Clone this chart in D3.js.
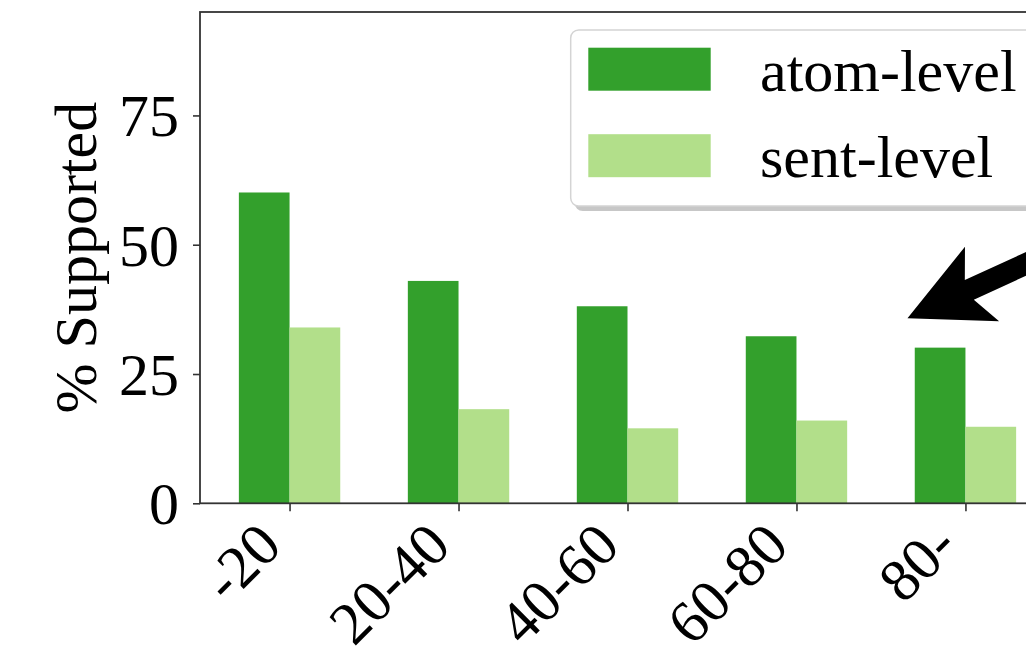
<!DOCTYPE html>
<html>
<head>
<meta charset="utf-8">
<script src="https://cdn.jsdelivr.net/npm/d3@7"></script>
<style>
  html, body { margin: 0; padding: 0; background: #fff; }
  svg { display: block; }
  svg text { font-family: "Liberation Serif", "Times New Roman", Times, serif !important; fill: #000; }
</style>
</head>
<body>
<svg id="chart" width="1026" height="662"></svg>
<script>
// ---- data ----
const categories = ["-20", "20-40", "40-60", "60-80", "80-"];
const atomLevel = [60.1, 43.0, 38.1, 32.3, 30.1];
const sentLevel = [34.0, 18.2, 14.5, 16.0, 14.8];
const seriesNames = ["atom-level", "sent-level"];
const yTicks = [0, 25, 50, 75];
const yLabel = "% Supported";
const arrowTip = [3.657, 35.8]; // annotation arrow tip (data coords)

(function () {
// ---- layout ----
const plotL = 200, plotT = 12, plotR = 1055, plotB = 503.3;
const colors = ["#33a02c", "#b2df8a"];
const barW = 0.3;
const fontSize = 60;
const serif = "'Liberation Serif', 'Times New Roman', Times, serif";

const svg = d3.select("#chart");

const x = d3.scaleLinear().domain([-0.53, categories.length - 1 + 0.53]).range([plotL, plotR]);
const y = d3.scaleLinear().domain([0, 95]).range([plotB, plotT]);

// bars
const g = svg.append("g");
g.selectAll("rect.atom").data(atomLevel).join("rect")
  .attr("class", "atom")
  .attr("x", (d, i) => x(i - barW))
  .attr("width", (d, i) => x(i) - x(i - barW))
  .attr("y", d => y(d))
  .attr("height", d => y(0) - y(d))
  .attr("fill", colors[0]);
g.selectAll("rect.sent").data(sentLevel).join("rect")
  .attr("class", "sent")
  .attr("x", (d, i) => x(i))
  .attr("width", (d, i) => x(i + barW) - x(i))
  .attr("y", d => y(d))
  .attr("height", d => y(0) - y(d))
  .attr("fill", colors[1]);

// spines
svg.append("rect").attr("x", plotL).attr("y", plotT).attr("width", plotR - plotL).attr("height", plotB - plotT)
  .attr("stroke", "#333").attr("stroke-width", 1.8).attr("fill", "none");

// y axis
const yAxis = svg.append("g").attr("transform", `translate(${plotL},0)`)
  .call(d3.axisLeft(y).tickValues(yTicks).tickSize(7).tickPadding(14).tickFormat(d3.format("d")));
yAxis.attr("font-family", null).attr("font-size", null).style("font-family", serif);
yAxis.select(".domain").remove();
yAxis.selectAll("line").attr("stroke", "#333").attr("stroke-width", 1.6);
yAxis.selectAll("text").style("font-family", serif).style("font-size", fontSize + "px").attr("fill", "#000").attr("dy", "0.34em");

// x axis
const xAxis = svg.append("g").attr("transform", `translate(0,${plotB})`)
  .call(d3.axisBottom(x).tickValues(d3.range(categories.length)).tickSize(8).tickFormat(i => categories[i]));
xAxis.attr("font-family", null).attr("font-size", null).style("font-family", serif);
xAxis.select(".domain").remove();
xAxis.selectAll("line").attr("stroke", "#333").attr("stroke-width", 1.6);
xAxis.selectAll("text")
  .style("font-family", serif).style("font-size", fontSize + "px").attr("fill", "#000")
  .attr("text-anchor", "end")
  .attr("x", 0).attr("y", 0).attr("dy", 0)
  .attr("transform", "translate(-6,45) rotate(-45)");

// y label
svg.append("text")
  .attr("transform", `translate(96,${(plotT + plotB) / 2}) rotate(-90)`)
  .attr("text-anchor", "middle")
  .style("font-family", serif).style("font-size", fontSize + "px")
  .text(yLabel);

// legend
const lg = svg.append("g").attr("transform", "translate(570.7,30)");
lg.append("rect").attr("x", 4).attr("y", 5).attr("width", 480).attr("height", 176).attr("rx", 8)
  .attr("fill", "#999").attr("opacity", 0.55);
lg.append("rect").attr("x", 0).attr("y", 0).attr("width", 480).attr("height", 176).attr("rx", 8)
  .attr("fill", "#fff").attr("stroke", "#d4d4d4").attr("stroke-width", 1.5);
seriesNames.forEach((name, i) => {
  lg.append("rect").attr("x", 17.6).attr("y", 17.7 + i * 86.5).attr("width", 122.4).attr("height", 43)
    .attr("fill", colors[i]);
  lg.append("text").attr("x", 189.3).attr("y", 60.5 + i * 86.3)
    .style("font-family", serif).style("font-size", fontSize + "px").text(name);
});

// annotation arrow
const tip = [x(arrowTip[0]), y(arrowTip[1])];
const arrowShape = [[0, 0], [82, -41], [68, -10.8], [320, -10.8], [320, 10.8], [68, 10.8], [82, 41]];
svg.append("polygon")
  .attr("points", arrowShape.map(p => p.join(",")).join(" "))
  .attr("transform", `translate(${tip[0]},${tip[1]}) rotate(-24.6)`)
  .attr("fill", "#000");
})();
</script>
</body>
</html>
